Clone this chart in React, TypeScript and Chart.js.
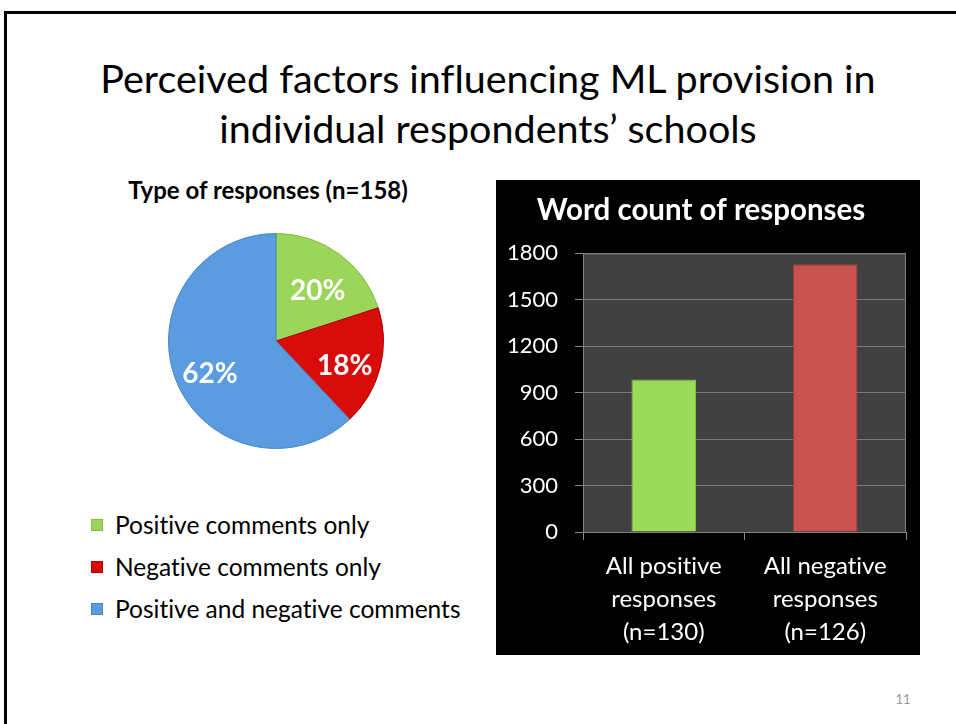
import React, { useEffect, useRef } from "react";
import { Chart, registerables } from "chart.js";
Chart.register(...registerables);

const FONT = 'Lato, "Open Sans", "DejaVu Sans", sans-serif';

const pageTitle = ["Perceived factors influencing ML provision in", "individual respondents\u2019 schools"];
const pieTitle = "Type of responses (n=158)";
const pieLabels = ["Positive comments only", "Negative comments only", "Positive and negative comments"];
const pieValues = [20, 18, 62];
const pieColors = ["#9BD65A", "#D90C0C", "#5B9BE0"];
const pieBorders = ["#84BC46", "#B00000", "#4A86C8"];

const barTitle = "Word count of responses";
const barCategories = [
  ["All positive", "responses", "(n=130)"],
  ["All negative", "responses", "(n=126)"],
];
const barValues = [985, 1730];
const barColors = ["#9CDB5A", "#C9524F"];
const barBorders = ["#86C046", "#A83E3C"];
const yMin = 0;
const yMax = 1800;
const yStep = 300;
const pageNumber = "11";

const pieLabelPlugin = {
  id: "pieLabels",
  afterDatasetsDraw(chart: any) {
    const ctx = chart.ctx;
    const meta = chart.getDatasetMeta(0);
    ctx.save();
    ctx.fillStyle = "#fff";
    ctx.font = `bold 28px ${FONT}`;
    ctx.textAlign = "center";
    ctx.textBaseline = "middle";
    meta.data.forEach((arc: any, i: number) => {
      const p = arc.getProps(["x", "y", "startAngle", "endAngle", "outerRadius"], true);
      const mid = (p.startAngle + p.endAngle) / 2;
      const r = p.outerRadius * 0.66;
      ctx.fillText(pieValues[i] + "%", p.x + Math.cos(mid) * r, p.y + Math.sin(mid) * r + 7);
    });
    ctx.restore();
  },
};

const barBgPlugin = {
  id: "barBg",
  beforeDraw(chart: any) {
    const { ctx, chartArea } = chart;
    ctx.save();
    ctx.fillStyle = "#000";
    ctx.fillRect(0, 0, chart.width, chart.height);
    ctx.fillStyle = "#404040";
    ctx.fillRect(chartArea.left, chartArea.top, chartArea.right - chartArea.left, chartArea.bottom - chartArea.top);
    ctx.restore();
  },
  beforeDatasetsDraw(chart: any) {
    const { ctx, chartArea } = chart;
    ctx.save();
    ctx.strokeStyle = "#808080";
    ctx.lineWidth = 1;
    ctx.strokeRect(chartArea.left + 0.5, chartArea.top + 0.5, chartArea.right - chartArea.left - 1, chartArea.bottom - chartArea.top);
    ctx.restore();
  },
};

function PieChart() {
  const ref = useRef<HTMLCanvasElement>(null);
  useEffect(() => {
    const chart = new Chart(ref.current!, {
      type: "pie",
      data: {
        labels: pieLabels,
        datasets: [
          {
            data: pieValues,
            backgroundColor: pieColors,
            borderColor: pieBorders,
            borderWidth: 1,
          },
        ],
      },
      options: {
        animation: false,
        responsive: false,
        layout: { padding: 1 },
        plugins: { legend: { display: false }, tooltip: { enabled: false } },
      },
      plugins: [pieLabelPlugin],
    });
    return () => chart.destroy();
  }, []);
  return <canvas ref={ref} width={218} height={218} style={{ position: "absolute", left: 167, top: 232 }} />;
}

function BarChart() {
  const ref = useRef<HTMLCanvasElement>(null);
  useEffect(() => {
    const chart = new Chart(ref.current!, {
      type: "bar",
      data: {
        labels: barCategories as any,
        datasets: [
          {
            data: barValues,
            backgroundColor: barColors,
            borderColor: barBorders,
            borderWidth: 1,
            barPercentage: 0.4,
            categoryPercentage: 1.0,
          },
        ],
      },
      options: {
        animation: false,
        responsive: false,
        layout: { padding: { left: 0, right: 14, top: 0, bottom: 0 } },
        plugins: {
          legend: { display: false },
          tooltip: { enabled: false },
          title: {
            display: true,
            text: barTitle,
            color: "#fff",
            font: { size: 29.5, weight: "bold", family: FONT, lineHeight: 1.2 },
            padding: { top: 13, bottom: 25 },
          },
        },
        scales: {
          x: {
            grid: { offset: true, drawOnChartArea: false, tickLength: 8, color: "#8a8a8a" },
            border: { color: "#8a8a8a" },
            ticks: { color: "#fff", font: { size: 24, family: FONT, lineHeight: 1.375 }, padding: 10, maxRotation: 0 },
            afterFit(s: any) {
              s.height = 123;
            },
          },
          y: {
            min: yMin,
            max: yMax,
            grid: { color: "#7a7a7a", tickLength: 8, tickColor: "#8a8a8a" },
            border: { color: "#8a8a8a" },
            ticks: {
              stepSize: yStep,
              color: "#fff",
              font: { size: 22, family: FONT },
              padding: 17,
              callback: (v: any) => String(v),
            },
            afterFit(s: any) {
              s.width = 87;
            },
          },
        },
      },
      plugins: [barBgPlugin],
    });
    return () => chart.destroy();
  }, []);
  return <canvas ref={ref} width={424} height={475} style={{ position: "absolute", left: 496, top: 180 }} />;
}

export default function App() {
  return (
    <div
      style={{
        position: "absolute",
        left: 0,
        top: 0,
        width: 956,
        height: 724,
        overflow: "hidden",
        background: "#fff",
        fontFamily: FONT,
        fontVariantLigatures: "none",
      }}
    >
      <div
        style={{
          position: "absolute",
          left: 4,
          top: 11,
          width: 1000,
          height: 800,
          borderLeft: "3px solid #000",
          borderTop: "3px solid #000",
        }}
      />
      {pageTitle.map((t, i) => (
        <div
          key={i}
          style={{
            position: "absolute",
            left: 0,
            width: 976,
            top: 53 + i * 50,
            height: 50,
            lineHeight: "50px",
            textAlign: "center",
            fontSize: 39.5,
            color: "#000",
            whiteSpace: "nowrap",
          }}
        >
          {t}
        </div>
      ))}
      <div
        style={{
          position: "absolute",
          left: 68,
          width: 400,
          top: 175,
          height: 30,
          lineHeight: "30px",
          textAlign: "center",
          fontSize: 24,
          fontWeight: "bold",
          color: "#000",
        }}
      >
        {pieTitle}
      </div>
      <PieChart />
      {pieLabels.map((l, i) => (
        <div
          key={l}
          style={{
            position: "absolute",
            left: 91,
            top: 509 + i * 42,
            height: 32,
            lineHeight: "32px",
            fontSize: 24.5,
            color: "#000",
            whiteSpace: "nowrap",
            display: "flex",
            alignItems: "center",
          }}
        >
          <span
            style={{
              display: "inline-block",
              width: 10,
              height: 10,
              background: pieColors[i],
              border: `1px solid ${pieBorders[i]}`,
              marginRight: 12,
            }}
          />
          {l}
        </div>
      ))}
      <BarChart />
      <div style={{ position: "absolute", left: 889, top: 691, width: 28, textAlign: "center", fontSize: 13, color: "#999" }}>
        {pageNumber}
      </div>
    </div>
  );
}
